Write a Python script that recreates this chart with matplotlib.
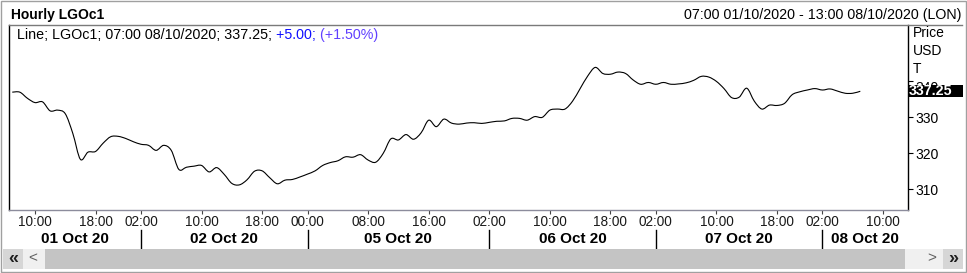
import numpy as np
import pandas as pd
import matplotlib
matplotlib.use("Agg")
import matplotlib.pyplot as plt
from matplotlib.patches import Rectangle, PathPatch
from matplotlib.lines import Line2D
from matplotlib.path import Path
from matplotlib.transforms import Bbox

W, H = 967, 273

# trading sessions on the axis (London time); closed hours are skipped
sessions = [
    ("2020-10-01 07:00", "2020-10-01 22:00"),
    ("2020-10-02 01:00", "2020-10-02 22:00"),
    ("2020-10-04 23:00", "2020-10-05 22:00"),
    ("2020-10-06 01:00", "2020-10-06 22:00"),
    ("2020-10-07 01:00", "2020-10-07 22:00"),
    ("2020-10-08 01:00", "2020-10-08 13:00"),
]

# hourly close, LGOc1, from 07:00 01/10 to 07:00 08/10
prices = [
    337.0, 337.0, 335.3, 334.1, 334.3, 331.8, 332.0, 331.0, 325.5, 318.3,
    320.3, 320.5, 322.8, 324.6, 324.7, 324.1, 323.2, 322.5, 322.2, 320.8,
    322.2, 320.8, 315.5, 316.1, 316.4, 316.6, 314.8, 316.0, 314.1, 311.6,
    311.2, 312.6, 315.0, 315.1, 313.2, 311.5, 312.5, 312.7, 313.4, 314.2,
    315.1, 316.6, 317.4, 317.9, 319.0, 318.9, 319.6, 318.1, 317.5, 320.0,
    324.0, 323.7, 325.2, 323.9, 325.7, 329.2, 327.4, 329.5, 328.4, 328.1,
    328.4, 328.5, 328.3, 328.6, 328.9, 329.0, 329.7, 329.7, 329.2, 330.2,
    330.0, 332.0, 332.3, 332.3, 334.5, 338.0, 341.5, 343.9, 342.2, 342.0,
    342.6, 342.2, 340.4, 339.2, 339.7, 339.2, 339.7, 339.2, 339.3, 339.6,
    340.3, 341.4, 341.2, 340.0, 338.0, 335.5, 335.6, 338.1, 334.5, 332.3,
    333.4, 333.3, 333.9, 336.3, 337.1, 337.6, 338.0, 337.6, 337.9, 337.3,
    336.7, 336.7, 337.25,
]

tick_times = [
    "2020-10-01 10:00", "2020-10-01 18:00",
    "2020-10-02 02:00", "2020-10-02 10:00", "2020-10-02 18:00",
    "2020-10-05 00:00", "2020-10-05 08:00", "2020-10-05 16:00",
    "2020-10-06 02:00", "2020-10-06 10:00", "2020-10-06 18:00",
    "2020-10-07 02:00", "2020-10-07 10:00", "2020-10-07 18:00",
    "2020-10-08 02:00", "2020-10-08 10:00",
]
y_ticks = [310, 320, 330, 340]
last_price = "337.25"
change = "+5.00"
change_pct = "+1.50%"

times = pd.DatetimeIndex([])
for start, end in sessions:
    times = times.append(pd.date_range(start, end, freq="h"))
pos = {t: i for i, t in enumerate(times)}
ticks = pd.to_datetime(tick_times)
tick_pos = [pos[t] for t in ticks]


def fx(px):
    return px / W


def fy(py):
    return 1 - py / H


plt.rcParams['font.family'] = ['Liberation Sans', 'DejaVu Sans']
fig = plt.figure(figsize=(W / 100, H / 100), dpi=100)
fig.patch.set_facecolor('white')

ax = fig.add_axes([fx(9), fy(210), (908 - 9) / W, (210 - 25) / H])

# smooth line through the hourly closes (Catmull-Rom as cubic Bezier)
pts = np.column_stack([np.arange(len(prices)), prices]).astype(float)
ext = np.vstack([pts[0], pts, pts[-1]])
verts = [pts[0]]
codes = [Path.MOVETO]
for i in range(len(pts) - 1):
    p0, p1, p2, p3 = ext[i], ext[i + 1], ext[i + 2], ext[i + 3]
    verts += [p1 + (p2 - p0) / 6, p2 - (p3 - p1) / 6, p2]
    codes += [Path.CURVE4] * 3
ax.add_patch(PathPatch(Path(verts, codes), facecolor='none', edgecolor='black',
                       linewidth=0.8))

ax.set_xlim(-0.43, len(times) - 0.7)
ax.set_ylim(304.2, 355.7)

ax.spines['top'].set_visible(False)
ax.spines['left'].set_color('black')
ax.spines['right'].set_color('black')
ax.spines['bottom'].set_color('#8c8c9c')
for s in ax.spines.values():
    s.set_linewidth(1.0)

ax.yaxis.tick_right()
ax.set_yticks(y_ticks)
# the top label is drawn separately below, mostly hidden by the price box
ax.set_yticklabels([str(v) for v in y_ticks[:-1]] + [""])
ax.tick_params(axis='y', direction='out', length=3.6, width=0.8, pad=1.5,
               labelsize=10, colors='black')
ax.set_xticks(tick_pos)
ax.set_xticklabels([])
ax.tick_params(axis='x', direction='out', length=3, width=0.8, color='#444444')

hidden = fig.text(fx(915), fy(88), str(y_ticks[-1]), fontsize=10,
                  ha='left', va='center', color='black')
hidden.set_clip_box(Bbox([[905, H - 85], [967, H - 80]]))
hidden.set_clip_on(True)

xt = ax.get_xaxis_transform()
px_per_axes = 210 - 25
for p, t in zip(tick_pos, ticks):
    ax.text(p, -(222 - 210) / px_per_axes, t.strftime('%H:%M'), transform=xt,
            ha='center', va='center', fontsize=9.8, color='#1a1a1a', clip_on=False)

# day separators at the first tick of each day, labels centred between them
first_of_day = {}
for p, t in zip(tick_pos, ticks):
    first_of_day.setdefault(t.normalize(), p)
days = list(first_of_day.keys())
edges = [ax.get_xlim()[0]] + [first_of_day[d] for d in days[1:]] + [ax.get_xlim()[1]]
for d, a, b in zip(days, edges[:-1], edges[1:]):
    ax.text((a + b) / 2, -(239 - 210) / px_per_axes, d.strftime('%d %b %y'),
            transform=xt, ha='center', va='center', fontsize=11,
            fontweight='bold', color='black', clip_on=False)
for e in edges[1:-1]:
    ax.add_line(Line2D([e, e], [-(230 - 210) / px_per_axes, -(249 - 210) / px_per_axes],
                       transform=xt, color='black', linewidth=1.0, clip_on=False))

# header
fig.text(fx(11), fy(15), "Hourly LGOc1", fontsize=10, fontweight='bold',
         ha='left', va='center')
fig.text(fx(962), fy(15), "07:00 01/10/2020 - 13:00 08/10/2020 (LON)",
         fontsize=10.3, ha='right', va='center')
fig.add_artist(Line2D([fx(9), fx(962)], [fy(25), fy(25)], color='#7a7a7a', linewidth=1.0))

# legend line with coloured change values
t1 = fig.text(fx(17), fy(42), "Line; LGOc1; 07:00 08/10/2020; %s;" % last_price,
              fontsize=10.3, ha='left', va='bottom', color='black')
t2 = fig.add_artist(plt.Annotation(" %s;" % change, xy=(1, 0), xycoords=t1,
                                   fontsize=10.3, ha='left', va='bottom', color='#1010ff'))
fig.add_artist(plt.Annotation(" (%s)" % change_pct, xy=(1, 0), xycoords=t2,
                              fontsize=10.3, ha='left', va='bottom', color='#6040ff'))

# right-hand axis captions
for label, y in [("Price", 33), ("USD", 51), ("T", 69)]:
    fig.text(fx(913), fy(y), label, fontsize=10, ha='left', va='center')

# last price box
fig.add_artist(Rectangle((fx(908), fy(97)), fx(963) - fx(908), fy(85) - fy(97),
                         transform=fig.transFigure, facecolor='black',
                         edgecolor='none', zorder=5))
fig.text(fx(909), fy(91), last_price, fontsize=10.3, fontweight='bold',
         color='white', ha='left', va='center', zorder=6)

# scroll bar
def box(x0, y0, x1, y1, color):
    fig.add_artist(Rectangle((fx(x0), fy(y1)), fx(x1) - fx(x0), fy(y0) - fy(y1),
                             transform=fig.transFigure, facecolor=color,
                             edgecolor='none', zorder=2))

box(3, 249, 963, 269, '#f0f0f0')
box(3, 249, 23, 269, '#d6d6d6')
box(45, 249, 905, 269, '#c4c4c4')
box(943, 249, 963, 269, '#d6d6d6')
fig.text(fx(13), fy(259), "«", fontsize=13, fontweight='bold', ha='center',
         va='center', color='#202020', zorder=3)
fig.text(fx(33), fy(258), "<", fontsize=11, ha='center', va='center',
         color='#606060', zorder=3)
fig.text(fx(932), fy(258), ">", fontsize=11, ha='center', va='center',
         color='#606060', zorder=3)
fig.text(fx(953), fy(259), "»", fontsize=13, fontweight='bold', ha='center',
         va='center', color='#202020', zorder=3)

# outer frame
fig.add_artist(Rectangle((fx(0.5), fy(271.5)), fx(965.5) - fx(0.5), fy(0.5) - fy(271.5),
                         transform=fig.transFigure, facecolor='none',
                         edgecolor='#a0a0a0', linewidth=1.0, zorder=7))

fig.savefig("out.png", dpi=100)
